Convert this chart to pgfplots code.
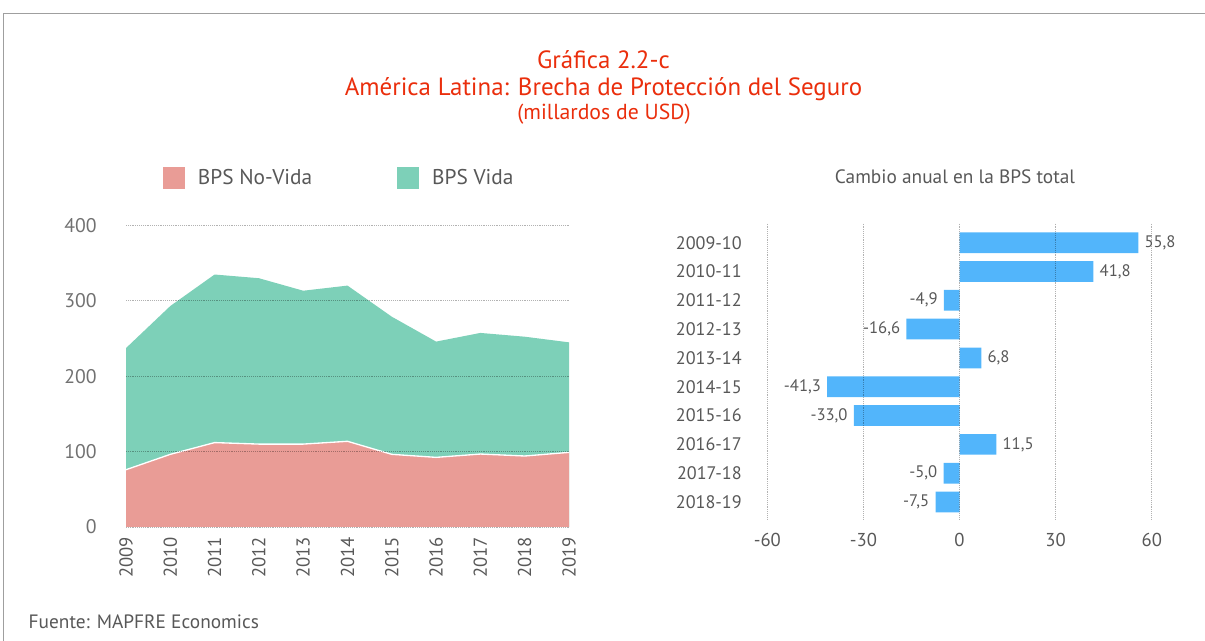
\documentclass[border=0pt]{standalone}
\usepackage{pgfplots}
\usepackage{pgfplotstable}
\pgfplotsset{compat=1.18}
\usepackage{fontspec}
\setmainfont{PT Sans}
\definecolor{nonvida}{HTML}{E99C96}
\definecolor{vida}{HTML}{7DD0B8}
\definecolor{barblue}{HTML}{52B5FB}
\definecolor{titlered}{HTML}{EA2E0C}
\definecolor{txtgray}{HTML}{585858}

\pgfplotstableread{
year nonvida vida
2009 76.0 161.4
2010 96.4 196.8
2011 112.0 223.0
2012 110.0 220.1
2013 110.0 203.5
2014 113.7 206.6
2015 96.4 182.6
2016 92.4 153.6
2017 96.8 160.7
2018 94.2 158.3
2019 99.0 146.0
}\bpsdata

\pgfplotstableread{
idx period change
0 2009-10 55.8
1 2010-11 41.8
2 2011-12 -4.9
3 2012-13 -16.6
4 2013-14 6.8
5 2014-15 -41.3
6 2015-16 -33.0
7 2016-17 11.5
8 2017-18 -5.0
9 2018-19 -7.5
}\changedata

\begin{document}
\begin{tikzpicture}
\path[use as bounding box] (0,0) rectangle (903.75pt,480.75pt);
\draw[color=gray!75, line width=1.1pt] (2.6pt,0) -- (2.6pt,470.6pt) -- (903.75pt,470.6pt);

\node[anchor=base, text=titlered, font=\fontsize{18.7}{20}\selectfont] at (452.6pt,429.5pt) {Gráfica 2.2-c};
\node[anchor=base, text=titlered, font=\fontsize{18.7}{20}\selectfont] at (452.6pt,409.3pt) {América Latina: Brecha de Protección del Seguro};
\node[anchor=base, text=titlered, font=\fontsize{16.3}{18}\selectfont] at (453.0pt,391.0pt) {(millardos de USD)};
\node[anchor=base, text=txtgray, font=\fontsize{14.5}{16}\selectfont] at (716.25pt,342.75pt) {Cambio anual en la BPS total};
\node[anchor=base west, text=txtgray, font=\fontsize{14.5}{16}\selectfont] at (18pt,9.5pt) {Fuente: MAPFRE Economics};

% left chart
\begin{axis}[
  at={(94.5pt,85.5pt)}, anchor=south west,
  scale only axis, width=332.25pt, height=226.1pt,
  xmin=2009, xmax=2019, ymin=0, ymax=400,
  axis line style={draw=none}, major tick length=0pt,
  xtick={2009,2010,...,2019}, ytick={0,100,...,400},
  ymajorgrids, grid style={densely dotted, black, draw opacity=0.3, line width=0.6pt},
  axis on top,
  /pgf/number format/assume math mode=true,
  /pgf/number format/1000 sep={},
  xticklabel style={rotate=90, anchor=east, inner sep=0pt, font=\fontsize{14}{16}\selectfont, text=txtgray},
  xticklabel shift=7.3pt,
  yticklabel style={anchor=east, inner sep=0pt, font=\fontsize{14.8}{17}\selectfont, text=txtgray!85},
  yticklabel shift=21.75pt,
  reverse legend,
  legend columns=2,
  legend image code/.code={\fill[#1] (0pt,-8.25pt) rectangle (16.5pt,8.25pt);},
  legend style={at={(0.0835,1.158)}, anchor=west, draw=none, fill=none, inner sep=0pt, outer sep=0pt,
    font=\fontsize{16}{18}\selectfont, text=txtgray, nodes={inner sep=0pt},
    /tikz/every odd column/.style={column sep=9.75pt},
    /tikz/every even column/.style={column sep=63.75pt}},
]
\addplot[fill=vida, draw=none] table[x=year, y expr=\thisrow{nonvida}+\thisrow{vida}] {\bpsdata} \closedcycle;
\addlegendentry{BPS Vida}
\addplot[fill=nonvida, draw=none] table[x=year, y=nonvida] {\bpsdata} \closedcycle;
\addlegendentry{BPS No-Vida}
\addplot[white, line width=1pt, forget plot] table[x=year, y=nonvida] {\bpsdata};
\end{axis}

% right chart
\begin{axis}[
  at={(575.5pt,91.5pt)}, anchor=south west,
  scale only axis, width=288.3pt, height=221.5pt,
  xmin=-60, xmax=60, ymin=-0.66, ymax=9.59, y dir=reverse,
  axis line style={draw=none}, major tick length=0pt,
  xtick={-60,-30,0,30,60}, ytick={0,1,...,9},
  yticklabels from table={\changedata}{period},
  xmajorgrids, grid style={densely dotted, black, draw opacity=0.3, line width=0.6pt},
  axis on top,
  /pgf/number format/assume math mode=true,
  xticklabel style={anchor=north, inner sep=0pt, font=\fontsize{14}{16}\selectfont, text=txtgray},
  xticklabel shift=10.5pt,
  yticklabel style={anchor=east, inner sep=0pt, font=\fontsize{13.6}{16}\selectfont, text=txtgray},
  yticklabel shift=19pt,
]
\addplot[xbar, fill=barblue, draw=none, bar width=0.72, point meta=x,
  nodes near coords={\pgfmathprintnumber[fixed,fixed zerofill,precision=1,use comma,assume math mode=true]{\pgfplotspointmeta}},
  nodes near coords align={horizontal},
  every node near coord/.append style={font=\fontsize{12.5}{14}\selectfont, text=txtgray, inner sep=4.5pt}]
  table[x=change, y=idx] {\changedata};
\end{axis}
\end{tikzpicture}
\end{document}
